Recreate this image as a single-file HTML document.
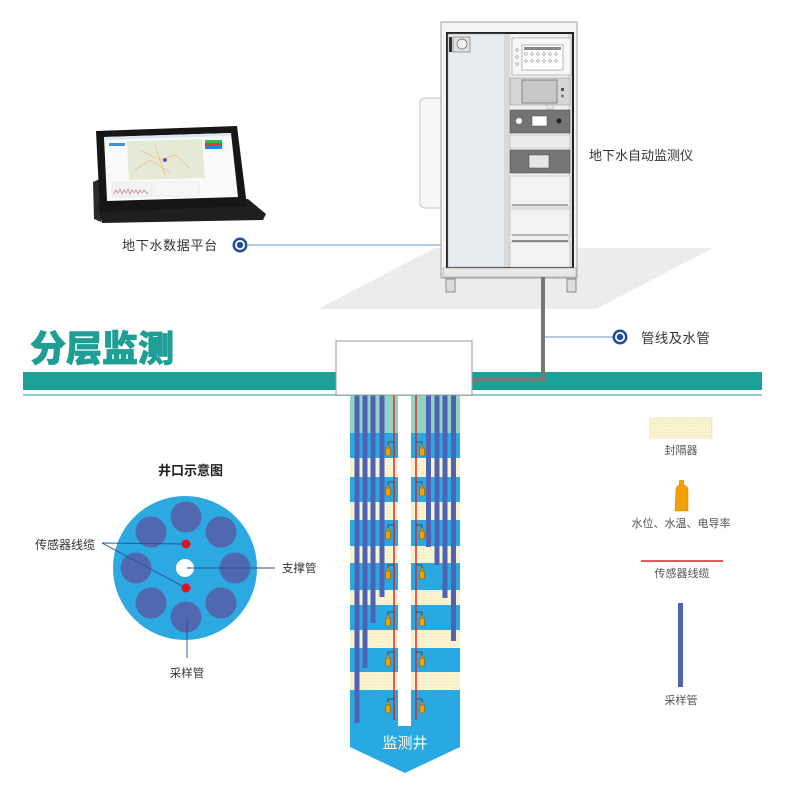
<!DOCTYPE html>
<html><head><meta charset="utf-8">
<style>
html,body{margin:0;padding:0;background:#fff;}
svg{display:block;}
text{font-family:"Liberation Sans","Noto Sans CJK SC",sans-serif;}
</style></head>
<body>
<svg width="790" height="791" viewBox="0 0 790 791" xmlns="http://www.w3.org/2000/svg">
<defs>
<pattern id="grid" width="3" height="3" patternUnits="userSpaceOnUse">
<rect width="3" height="3" fill="#fbf5d2"/>
<path d="M0 0H3M0 0V3" stroke="#ebe1b4" stroke-width="0.5"/>
</pattern>
<g id="bottleL"><rect x="-2.5" y="-3" width="5" height="8" rx="1" fill="#f2a100" stroke="#7a5000" stroke-width="0.5"/><rect x="-1" y="-6" width="2" height="3" fill="#f2a100" stroke="#7a5000" stroke-width="0.4"/></g>
</defs>

<!-- floor shadow -->
<polygon points="435,248 713,248 596,309 318,309" fill="#ececec"/>

<!-- tablet -->
<polygon points="93,182 102,178 101,222 94,219" fill="#2a2a2a"/>
<polygon points="97,204 248,199 266,214 263,220 102,223" fill="#1f1f1f"/>
<polygon points="96,131 237,126 247,206 100,212" fill="#161616"/>
<polygon points="104,137 231,133 238,197 107,201" fill="#fafafa"/>
<polygon points="104,137 231,133 231,136 104,140" fill="#dde6f0"/>
<polygon points="127,141 202,139 205,178 129,180" fill="#e4ead6"/>
<path d="M140,150 L160,160 L175,155 L190,168 M135,170 L150,160 L170,172 M155,145 L165,175" stroke="#f0c090" stroke-width="0.8" fill="none"/>
<circle cx="165" cy="160" r="2" fill="#7a4ab0"/>
<rect x="205" y="140" width="17" height="3" fill="#4caf50"/>
<rect x="205" y="143" width="17" height="3" fill="#e53935"/>
<rect x="205" y="146" width="17" height="3" fill="#1e88e5"/>
<rect x="109" y="143" width="16" height="3" fill="#4a90d9"/>
<rect x="112" y="182" width="40" height="15" fill="#f2f2f2" stroke="#ddd" stroke-width="0.4"/>
<path d="M114,194 L116,190 L118,193 L120,189 L122,194 L124,190 L126,193 L128,189 L130,194 L132,190 L134,193 L136,190 L138,194 L140,190 L142,193 L144,190 L148,194" stroke="#c06080" stroke-width="0.6" fill="none"/>
<rect x="154" y="182" width="45" height="14" fill="#f6f6f6" stroke="#ddd" stroke-width="0.4"/>

<!-- data platform label & line -->
<line x1="248" y1="245" x2="441" y2="245" stroke="#6b93c9" stroke-width="1"/>
<circle cx="240" cy="245" r="7.5" fill="#1d4f9e"/>
<circle cx="240" cy="245" r="5" fill="#fff"/>
<circle cx="240" cy="245" r="3.2" fill="#1d4f9e"/>
<text x="122" y="250" font-size="13" fill="#333" letter-spacing="0.7">地下水数据平台</text>

<!-- cabinet -->
<rect x="420" y="98" width="26" height="110" rx="5" fill="#f7f7f7" stroke="#c4c4c4"/>
<rect x="441" y="22" width="136" height="256" fill="#f4f4f4" stroke="#a0a0a0"/>
<rect x="447" y="33" width="126" height="235" fill="#f0f0f0" stroke="#222" stroke-width="2"/>
<rect x="448" y="34" width="57" height="233" fill="#e7ecf1" stroke="#999" stroke-width="0.5"/>
<rect x="506" y="34" width="66" height="233" fill="#efefef"/>
<rect x="506" y="34" width="4" height="233" fill="#dadada"/>
<rect x="568" y="34" width="4" height="233" fill="#dadada"/>
<rect x="453" y="37" width="17" height="15" fill="#e0e0e0" stroke="#666" stroke-width="0.6"/>
<circle cx="462" cy="44" r="5" fill="#f2f2f2" stroke="#666" stroke-width="0.7"/>
<rect x="449" y="37" width="3" height="15" fill="#333"/>
<!-- unit1 -->
<rect x="512" y="38" width="59" height="37" fill="#f7f7f7" stroke="#999" stroke-width="0.6"/>
<rect x="522" y="45" width="41" height="25" fill="#fff" stroke="#888" stroke-width="0.6"/>
<rect x="524" y="47" width="37" height="3" fill="#888"/>
<g fill="none" stroke="#666" stroke-width="0.5">
<circle cx="526" cy="54" r="1.3"/><circle cx="532" cy="54" r="1.3"/><circle cx="538" cy="54" r="1.3"/><circle cx="544" cy="54" r="1.3"/><circle cx="550" cy="54" r="1.3"/><circle cx="556" cy="54" r="1.3"/>
<circle cx="526" cy="61" r="1.3"/><circle cx="532" cy="61" r="1.3"/><circle cx="538" cy="61" r="1.3"/><circle cx="544" cy="61" r="1.3"/><circle cx="550" cy="61" r="1.3"/><circle cx="556" cy="61" r="1.3"/>
<circle cx="517" cy="50" r="1.3"/><circle cx="517" cy="57" r="1.3"/><circle cx="517" cy="64" r="1.3"/>
</g>
<!-- unit2 -->
<rect x="510" y="78" width="60" height="27" fill="#d6d6d6" stroke="#999" stroke-width="0.6"/>
<rect x="522" y="80" width="35" height="23" fill="#c8c8c8" stroke="#666" stroke-width="0.7"/>
<rect x="561" y="88" width="3" height="3" fill="#555"/>
<circle cx="562.5" cy="96" r="1.5" fill="#777"/>
<rect x="547" y="105" width="6" height="4" fill="#eee" stroke="#999" stroke-width="0.5"/>
<!-- unit3 -->
<rect x="510" y="110" width="60" height="23" fill="#747474" stroke="#555" stroke-width="0.6"/>
<circle cx="519" cy="121" r="3" fill="#fff"/>
<rect x="532" y="116" width="15" height="10" fill="#fff" stroke="#444" stroke-width="0.5"/>
<circle cx="559" cy="121" r="2.5" fill="#222"/>
<!-- unit4 -->
<rect x="510" y="135" width="60" height="13" fill="#ebebeb" stroke="#aaa" stroke-width="0.5"/>
<!-- unit5 -->
<rect x="510" y="150" width="60" height="23" fill="#767676" stroke="#555" stroke-width="0.6"/>
<rect x="529" y="155" width="20" height="13" fill="#e6e6e6" stroke="#444" stroke-width="0.5"/>
<!-- lower units -->
<rect x="510" y="176" width="60" height="31" fill="#f2f2f2" stroke="#aaa" stroke-width="0.5"/>
<line x1="512" y1="205" x2="568" y2="205" stroke="#666" stroke-width="1"/>
<rect x="510" y="209" width="60" height="26" fill="#f2f2f2" stroke="#aaa" stroke-width="0.5"/>
<line x1="512" y1="235" x2="568" y2="235" stroke="#777" stroke-width="1"/>
<line x1="512" y1="241" x2="568" y2="241" stroke="#333" stroke-width="1"/>
<rect x="510" y="242" width="60" height="25" fill="#f2f2f2" stroke="#aaa" stroke-width="0.5"/>
<rect x="443" y="268" width="133" height="9" fill="#e8e8e8" stroke="#999" stroke-width="0.6"/>
<rect x="446" y="279" width="9" height="13" fill="#ddd" stroke="#666" stroke-width="0.7"/>
<rect x="567" y="279" width="9" height="13" fill="#ddd" stroke="#666" stroke-width="0.7"/>
<text x="589" y="160" font-size="13" fill="#333">地下水自动监测仪</text>

<!-- pipe -->
<line x1="545" y1="337" x2="613" y2="337" stroke="#6b93c9" stroke-width="1"/>
<circle cx="620" cy="337" r="7.5" fill="#1d4f9e"/>
<circle cx="620" cy="337" r="5" fill="#fff"/>
<circle cx="620" cy="337" r="3.2" fill="#1d4f9e"/>
<text x="641" y="343" font-size="13.5" fill="#333" letter-spacing="0.3">管线及水管</text>

<!-- title & band -->
<text x="30" y="361" font-size="36" font-weight="900" fill="#1e9e94" stroke="#1e9e94" stroke-width="0.8">分层监测</text>
<rect x="23" y="372" width="739" height="18" fill="#1ba196"/>
<rect x="23" y="394" width="739" height="2" fill="#8dd0c6"/>
<path d="M543,277 V380 H472" stroke="#777" stroke-width="4" fill="none"/>

<!-- well -->
<g>
<rect x="350" y="395" width="48" height="38" fill="#93d3c2"/>
<rect x="411" y="395" width="49" height="38" fill="#93d3c2"/>
<rect x="350" y="433" width="48" height="294" fill="#29a9e1"/>
<rect x="411" y="433" width="49" height="294" fill="#29a9e1"/>
<polygon points="350,726 460,726 460,747 405,773 350,747" fill="#29a9e1"/>
<g fill="url(#grid)">
<rect x="350" y="458" width="48" height="19"/><rect x="411" y="458" width="49" height="19"/>
<rect x="350" y="502" width="48" height="18"/><rect x="411" y="502" width="49" height="18"/>
<rect x="350" y="546" width="48" height="17"/><rect x="411" y="546" width="49" height="17"/>
<rect x="350" y="590" width="48" height="15"/><rect x="411" y="590" width="49" height="15"/>
<rect x="350" y="630" width="48" height="18"/><rect x="411" y="630" width="49" height="18"/>
<rect x="350" y="672" width="48" height="18"/><rect x="411" y="672" width="49" height="18"/>
</g>
<g fill="#4f63b5">
<rect x="354.5" y="395" width="5" height="328"/>
<rect x="362.5" y="395" width="5" height="273"/>
<rect x="370.5" y="395" width="5" height="228"/>
<rect x="379.5" y="395" width="5" height="202"/>
<rect x="426" y="395" width="5" height="152"/>
<rect x="434.5" y="395" width="5" height="170"/>
<rect x="442.5" y="395" width="5" height="203"/>
<rect x="451" y="395" width="5" height="246"/>
</g>
<line x1="394" y1="395" x2="394" y2="720" stroke="#e02020" stroke-width="1.4"/>
<line x1="416" y1="395" x2="416" y2="720" stroke="#e02020" stroke-width="1.4"/>
<g stroke="#333" stroke-width="0.7" fill="none">
<path d="M388,445 V442 H394"/><path d="M422,445 V442 H416"/>
<path d="M388,485 V482 H394"/><path d="M422,485 V482 H416"/>
<path d="M388,528 V525 H394"/><path d="M422,528 V525 H416"/>
<path d="M388,568 V565 H394"/><path d="M422,568 V565 H416"/>
<path d="M388,615 V612 H394"/><path d="M422,615 V612 H416"/>
<path d="M388,655 V652 H394"/><path d="M422,655 V652 H416"/>
<path d="M388,702 V699 H394"/><path d="M422,702 V699 H416"/>
</g>
<use href="#bottleL" x="388" y="451"/><use href="#bottleL" x="422" y="451"/>
<use href="#bottleL" x="388" y="491"/><use href="#bottleL" x="422" y="491"/>
<use href="#bottleL" x="388" y="534"/><use href="#bottleL" x="422" y="534"/>
<use href="#bottleL" x="388" y="574"/><use href="#bottleL" x="422" y="574"/>
<use href="#bottleL" x="388" y="621"/><use href="#bottleL" x="422" y="621"/>
<use href="#bottleL" x="388" y="661"/><use href="#bottleL" x="422" y="661"/>
<use href="#bottleL" x="388" y="708"/><use href="#bottleL" x="422" y="708"/>
<text x="405" y="748" font-size="15" fill="#fff" text-anchor="middle">监测井</text>
</g>
<rect x="336" y="341" width="136" height="54" fill="#fff" stroke="#999" stroke-width="1"/>

<!-- wellhead diagram -->
<text x="158" y="475" font-size="13" font-weight="bold" fill="#222">井口示意图</text>
<circle cx="185" cy="568" r="72" fill="#2ba9e0"/>
<g fill="#4f68b0">
<circle cx="186" cy="517" r="15.5"/>
<circle cx="221" cy="532" r="15.5"/>
<circle cx="235" cy="568" r="15.5"/>
<circle cx="221" cy="603" r="15.5"/>
<circle cx="186" cy="617" r="15.5"/>
<circle cx="151" cy="603" r="15.5"/>
<circle cx="136" cy="568" r="15.5"/>
<circle cx="151" cy="532" r="15.5"/>
</g>
<circle cx="185" cy="568" r="9" fill="#fff"/>
<circle cx="186" cy="544" r="4.5" fill="#e8101a"/>
<circle cx="186" cy="588" r="4.5" fill="#e8101a"/>
<g stroke="#2a4f9a" stroke-width="0.9">
<line x1="102" y1="543" x2="186" y2="544"/>
<line x1="102" y1="543" x2="186" y2="588"/>
<line x1="187" y1="568" x2="275" y2="568"/>
<line x1="187" y1="618" x2="187" y2="658"/>
</g>
<text x="35" y="549" font-size="12" fill="#333">传感器线缆</text>
<text x="282" y="572" font-size="11.5" fill="#333">支撑管</text>
<text x="187" y="677" font-size="11.5" fill="#333" text-anchor="middle">采样管</text>

<!-- legend -->
<rect x="650" y="418" width="62" height="20" fill="url(#grid)" stroke="#e6dcaa" stroke-width="0.6"/>
<text x="681" y="454" font-size="11" fill="#555" text-anchor="middle">封隔器</text>
<rect x="679" y="480" width="5" height="6" fill="#f2a100"/>
<path d="M676,490 Q676,486 679,485 H684 Q688,486 688,490 V511 H675 Z" fill="#f2a100" stroke="#c98500" stroke-width="0.5"/>
<text x="681" y="527" font-size="11" fill="#555" text-anchor="middle">水位、水温、电导率</text>
<line x1="641" y1="561" x2="723" y2="561" stroke="#e02020" stroke-width="1.4"/>
<text x="682" y="577" font-size="11" fill="#555" text-anchor="middle">传感器线缆</text>
<rect x="678" y="603" width="5" height="84" fill="#4f63b5"/>
<text x="681" y="704" font-size="11" fill="#555" text-anchor="middle">采样管</text>
</svg>
</body></html>
